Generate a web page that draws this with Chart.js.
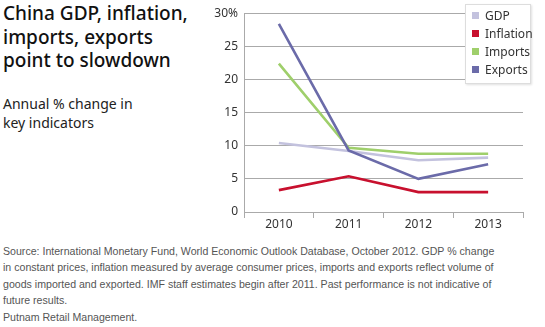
<!DOCTYPE html>
<html>
<head>
<meta charset="utf-8">
<script src="https://cdn.jsdelivr.net/npm/chart.js@4/dist/chart.umd.min.js"></script>
<style>
  html, body { margin: 0; padding: 0; background: #fff; }
  body { width: 545px; height: 327px; position: relative; overflow: hidden; font-family: "Noto Sans", sans-serif; }
  #title { position: absolute; left: 3px; top: 2px; font-family: "Noto Sans", sans-serif; font-weight: 500; font-size: 19px; line-height: 23.5px; color: #111; }
  #subtitle { position: absolute; left: 3px; top: 94px; font-family: "Noto Sans", sans-serif; font-size: 14px; line-height: 19px; color: #222; }
  #wrap { position: absolute; left: 200px; top: 0px; width: 345px; height: 235px; }
  #legend { position: absolute; left: 465px; top: 4px; width: 66px; height: 80px; background: #fff; border: 1px solid #ddd; box-shadow: 1px 1px 2px rgba(0,0,0,0.12); box-sizing: border-box; }
  .item { position: absolute; left: 6px; white-space: nowrap; font-size: 12px; color: #333; line-height: 14px; font-family: "Noto Sans", sans-serif; }
  .sw { display: inline-block; width: 7px; height: 7px; margin-right: 6px; vertical-align: 1px; }
  #source { position: absolute; left: 3px; top: 243px; width: 498px; font-family: "Liberation Sans", Arial, sans-serif; font-size: 10.6px; line-height: 16.3px; color: #555; }
  #credit { position: absolute; left: 3px; top: 311px; font-family: "Liberation Sans", Arial, sans-serif; font-size: 10.6px; color: #555; }
</style>
</head>
<body>
<div id="title">China GDP, inflation,<br>imports, exports<br>point to slowdown</div>
<div id="subtitle">Annual % change in<br>key indicators</div>
<div id="wrap"><canvas id="c"></canvas></div>
<div id="legend"></div>
<div id="source">Source: International Monetary Fund, World Economic Outlook Database, October 2012. GDP % change in constant prices, inflation measured by average consumer prices, imports and exports reflect volume of goods imported and exported. IMF staff estimates begin after 2011. Past performance is not indicative of future results.</div>
<div id="credit">Putnam Retail Management.</div>
<script>
// Years on the category axis
const years = ['2010', '2011', '2012', '2013'];
// Annual % change per indicator
const gdp = [10.4, 9.2, 7.8, 8.2];
const inflation = [3.3, 5.4, 3.0, 3.0];
const imports = [22.4, 9.7, 8.8, 8.8];
const exports = [28.4, 9.3, 5.0, 7.2];
// Y axis tick values
const yTicks = [0, 5, 10, 15, 20, 25, 30];

const seriesNames = ['GDP', 'Inflation', 'Imports', 'Exports'];
const seriesColors = ['#c3c2de', '#c8102e', '#9fcf6b', '#6b6ba9'];
const seriesData = [gdp, inflation, imports, exports];

const datasets = seriesNames.map((name, i) => ({
  label: name,
  data: seriesData[i],
  borderColor: seriesColors[i],
  backgroundColor: seriesColors[i],
  borderWidth: 2.6,
  pointRadius: 0,
  tension: 0,
  fill: false
}));

// Draw so that Exports sits on top, GDP beneath
datasets.forEach((d, i) => { d.order = seriesNames.length - i; });

const tickFont = { family: '"Noto Sans", sans-serif', size: 12 };

new Chart(document.getElementById('c'), {
  type: 'line',
  data: { labels: years, datasets },
  options: {
    responsive: true,
    maintainAspectRatio: false,
    animation: false,
    layout: { padding: { top: 11, right: 22, bottom: 0, left: 0 } },
    plugins: { legend: { display: false }, tooltip: { enabled: false } },
    scales: {
      x: {
        offset: true,
        grid: { offset: true, drawOnChartArea: false, drawTicks: true, tickLength: 6, color: '#aaa' },
        border: { display: false },
        ticks: { color: '#333', font: tickFont, padding: -1 },
        afterFit: s => { s.height = 23; }
      },
      y: {
        min: 0, max: 30,
        afterBuildTicks: s => { s.ticks = yTicks.map(v => ({ value: v })); },
        grid: { color: '#aaa', drawTicks: false, lineWidth: 1 },
        border: { display: true, color: '#aaa' },
        ticks: {
          color: '#333', font: tickFont, padding: 6,
          callback: v => v === 30 ? v + '%' : v
        },
        afterFit: s => { s.width = 44; }
      }
    }
  }
});

// Legend box
const legend = document.getElementById('legend');
seriesNames.forEach((name, i) => {
  const el = document.createElement('div');
  el.className = 'item';
  el.style.top = (4 + i * 18) + 'px';
  el.innerHTML = '<span class="sw" style="background:' + seriesColors[i] + '"></span>' + name;
  legend.appendChild(el);
});
</script>
</body>
</html>
